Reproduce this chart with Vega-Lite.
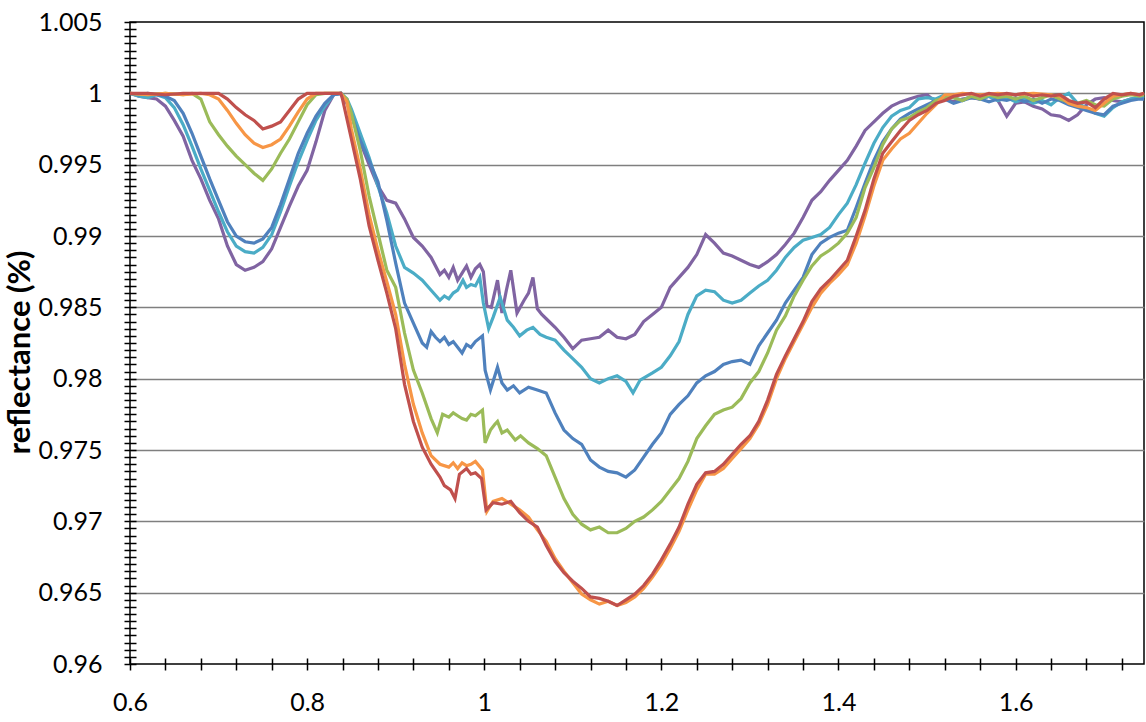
{
  "$schema": "https://vega.github.io/schema/vega-lite/v6.json",
  "width": 1014,
  "height": 642,
  "autosize": "none",
  "padding": {"left": 130, "top": 22, "right": 2, "bottom": 58},
  "background": "white",
  "config": {
    "view": {"stroke": "black", "strokeWidth": 1.5},
    "axis": {"labelFont": "Lato", "titleFont": "Lato", "labelColor": "black", "titleColor": "black"}
  },
  "datasets": {
    "purple": [
      {"x":0.6,"y":1},{"x":0.61,"y":0.9998},{"x":0.62,"y":0.9997},{"x":0.63,"y":0.9996},{"x":0.64,"y":0.9991},{"x":0.65,"y":0.9981},{"x":0.66,"y":0.997},{"x":0.67,"y":0.9953},{"x":0.68,"y":0.994},{"x":0.69,"y":0.9925},{"x":0.7,"y":0.9912},{"x":0.71,"y":0.9893},{"x":0.72,"y":0.988},{"x":0.73,"y":0.9876},{"x":0.74,"y":0.9878},{"x":0.75,"y":0.9882},{"x":0.76,"y":0.9891},{"x":0.77,"y":0.9906},{"x":0.78,"y":0.9921},{"x":0.79,"y":0.9935},{"x":0.8,"y":0.9946},{"x":0.81,"y":0.9966},{"x":0.82,"y":0.9988},{"x":0.83,"y":0.9999},{"x":0.838,"y":1},{"x":0.845,"y":0.9993},{"x":0.85,"y":0.9985},{"x":0.86,"y":0.9966},{"x":0.87,"y":0.995},{"x":0.88,"y":0.9935},{"x":0.89,"y":0.9925},{"x":0.9,"y":0.9923},{"x":0.91,"y":0.9912},{"x":0.92,"y":0.9899},{"x":0.93,"y":0.9893},{"x":0.94,"y":0.9885},{"x":0.95,"y":0.9873},{"x":0.955,"y":0.9876},{"x":0.96,"y":0.9871},{"x":0.965,"y":0.9878},{"x":0.97,"y":0.9869},{"x":0.975,"y":0.9874},{"x":0.98,"y":0.9879},{"x":0.985,"y":0.9871},{"x":0.99,"y":0.9877},{"x":0.995,"y":0.988},{"x":0.999,"y":0.9875},{"x":1.003,"y":0.9851},{"x":1.008,"y":0.985},{"x":1.015,"y":0.9869},{"x":1.02,"y":0.9846},{"x":1.025,"y":0.9862},{"x":1.03,"y":0.9876},{"x":1.037,"y":0.9846},{"x":1.045,"y":0.9855},{"x":1.05,"y":0.986},{"x":1.055,"y":0.9871},{"x":1.06,"y":0.9849},{"x":1.065,"y":0.9845},{"x":1.07,"y":0.9842},{"x":1.08,"y":0.9836},{"x":1.09,"y":0.9829},{"x":1.1,"y":0.9821},{"x":1.11,"y":0.9827},{"x":1.12,"y":0.9828},{"x":1.13,"y":0.9829},{"x":1.14,"y":0.9834},{"x":1.15,"y":0.9829},{"x":1.16,"y":0.9828},{"x":1.17,"y":0.9831},{"x":1.18,"y":0.984},{"x":1.19,"y":0.9845},{"x":1.2,"y":0.985},{"x":1.21,"y":0.9864},{"x":1.22,"y":0.9871},{"x":1.23,"y":0.9878},{"x":1.24,"y":0.9887},{"x":1.25,"y":0.9901},{"x":1.26,"y":0.9895},{"x":1.27,"y":0.9888},{"x":1.28,"y":0.9886},{"x":1.29,"y":0.9883},{"x":1.3,"y":0.988},{"x":1.31,"y":0.9878},{"x":1.32,"y":0.9882},{"x":1.33,"y":0.9887},{"x":1.34,"y":0.9894},{"x":1.35,"y":0.9902},{"x":1.36,"y":0.9913},{"x":1.37,"y":0.9925},{"x":1.38,"y":0.9931},{"x":1.39,"y":0.9939},{"x":1.4,"y":0.9946},{"x":1.41,"y":0.9953},{"x":1.42,"y":0.9963},{"x":1.43,"y":0.9974},{"x":1.44,"y":0.998},{"x":1.45,"y":0.9986},{"x":1.46,"y":0.9991},{"x":1.47,"y":0.9994},{"x":1.48,"y":0.9996},{"x":1.49,"y":0.9998},{"x":1.5,"y":0.9999},{"x":1.51,"y":0.9994},{"x":1.52,"y":0.9996},{"x":1.53,"y":0.9994},{"x":1.54,"y":0.9996},{"x":1.55,"y":0.9997},{"x":1.56,"y":0.9996},{"x":1.57,"y":0.9998},{"x":1.58,"y":0.9995},{"x":1.59,"y":0.9984},{"x":1.6,"y":0.9993},{"x":1.61,"y":0.9994},{"x":1.62,"y":0.9991},{"x":1.63,"y":0.9989},{"x":1.64,"y":0.9985},{"x":1.65,"y":0.9984},{"x":1.66,"y":0.9981},{"x":1.67,"y":0.9985},{"x":1.68,"y":0.9992},{"x":1.69,"y":0.9996},{"x":1.7,"y":0.9997},{"x":1.71,"y":0.9995},{"x":1.72,"y":0.9994},{"x":1.73,"y":0.9996},{"x":1.74,"y":0.9997},{"x":1.745,"y":0.9997}
    ],
    "cyan": [
      {"x":0.6,"y":1},{"x":0.61,"y":0.9998},{"x":0.62,"y":0.9997},{"x":0.63,"y":0.9999},{"x":0.64,"y":0.9997},{"x":0.65,"y":0.999},{"x":0.66,"y":0.9978},{"x":0.67,"y":0.9963},{"x":0.68,"y":0.9947},{"x":0.69,"y":0.9932},{"x":0.7,"y":0.9917},{"x":0.71,"y":0.9903},{"x":0.72,"y":0.9893},{"x":0.73,"y":0.9889},{"x":0.74,"y":0.9888},{"x":0.75,"y":0.9892},{"x":0.76,"y":0.9901},{"x":0.77,"y":0.9917},{"x":0.78,"y":0.9935},{"x":0.79,"y":0.9952},{"x":0.8,"y":0.9967},{"x":0.81,"y":0.9981},{"x":0.82,"y":0.9991},{"x":0.83,"y":0.9999},{"x":0.838,"y":1},{"x":0.845,"y":0.9996},{"x":0.85,"y":0.9989},{"x":0.86,"y":0.9972},{"x":0.87,"y":0.9955},{"x":0.88,"y":0.9935},{"x":0.89,"y":0.9916},{"x":0.9,"y":0.9893},{"x":0.91,"y":0.9878},{"x":0.92,"y":0.9874},{"x":0.93,"y":0.9869},{"x":0.94,"y":0.9862},{"x":0.95,"y":0.9855},{"x":0.955,"y":0.9858},{"x":0.96,"y":0.9856},{"x":0.965,"y":0.986},{"x":0.97,"y":0.9862},{"x":0.976,"y":0.9869},{"x":0.98,"y":0.9864},{"x":0.985,"y":0.9866},{"x":0.99,"y":0.9865},{"x":0.995,"y":0.9871},{"x":0.999,"y":0.9853},{"x":1.005,"y":0.9835},{"x":1.01,"y":0.9843},{"x":1.018,"y":0.9857},{"x":1.026,"y":0.9841},{"x":1.033,"y":0.9836},{"x":1.04,"y":0.983},{"x":1.048,"y":0.9834},{"x":1.055,"y":0.9836},{"x":1.063,"y":0.9831},{"x":1.07,"y":0.9829},{"x":1.08,"y":0.9827},{"x":1.09,"y":0.982},{"x":1.1,"y":0.9814},{"x":1.11,"y":0.9808},{"x":1.12,"y":0.98},{"x":1.13,"y":0.9797},{"x":1.14,"y":0.98},{"x":1.15,"y":0.9802},{"x":1.16,"y":0.9798},{"x":1.168,"y":0.979},{"x":1.176,"y":0.9799},{"x":1.19,"y":0.9804},{"x":1.2,"y":0.9808},{"x":1.21,"y":0.9816},{"x":1.22,"y":0.9826},{"x":1.23,"y":0.9845},{"x":1.24,"y":0.9858},{"x":1.25,"y":0.9862},{"x":1.26,"y":0.9861},{"x":1.27,"y":0.9855},{"x":1.28,"y":0.9853},{"x":1.29,"y":0.9855},{"x":1.3,"y":0.986},{"x":1.31,"y":0.9865},{"x":1.32,"y":0.9869},{"x":1.33,"y":0.9876},{"x":1.34,"y":0.9885},{"x":1.35,"y":0.9892},{"x":1.36,"y":0.9897},{"x":1.37,"y":0.9899},{"x":1.38,"y":0.9901},{"x":1.39,"y":0.9906},{"x":1.4,"y":0.9915},{"x":1.41,"y":0.9923},{"x":1.42,"y":0.9936},{"x":1.43,"y":0.9951},{"x":1.44,"y":0.9965},{"x":1.45,"y":0.9976},{"x":1.46,"y":0.9984},{"x":1.47,"y":0.9988},{"x":1.48,"y":0.999},{"x":1.49,"y":0.9996},{"x":1.5,"y":0.9997},{"x":1.51,"y":0.9996},{"x":1.52,"y":0.9999},{"x":1.53,"y":0.9997},{"x":1.54,"y":0.9995},{"x":1.55,"y":0.9998},{"x":1.56,"y":0.9996},{"x":1.57,"y":0.9998},{"x":1.58,"y":0.9995},{"x":1.59,"y":0.9997},{"x":1.6,"y":0.9994},{"x":1.61,"y":0.9996},{"x":1.62,"y":0.9993},{"x":1.63,"y":0.9995},{"x":1.64,"y":0.9992},{"x":1.65,"y":0.9997},{"x":1.66,"y":1},{"x":1.67,"y":0.9993},{"x":1.68,"y":0.999},{"x":1.69,"y":0.9986},{"x":1.7,"y":0.9984},{"x":1.71,"y":0.999},{"x":1.72,"y":0.9994},{"x":1.73,"y":0.9996},{"x":1.74,"y":0.9997},{"x":1.745,"y":0.9998}
    ],
    "blue": [
      {"x":0.6,"y":1},{"x":0.61,"y":0.9999},{"x":0.62,"y":1},{"x":0.63,"y":0.9999},{"x":0.64,"y":0.9998},{"x":0.65,"y":0.9995},{"x":0.66,"y":0.9986},{"x":0.67,"y":0.9972},{"x":0.68,"y":0.9956},{"x":0.69,"y":0.994},{"x":0.7,"y":0.9925},{"x":0.71,"y":0.991},{"x":0.72,"y":0.99},{"x":0.73,"y":0.9896},{"x":0.74,"y":0.9895},{"x":0.75,"y":0.9898},{"x":0.76,"y":0.9906},{"x":0.77,"y":0.9922},{"x":0.78,"y":0.994},{"x":0.79,"y":0.9958},{"x":0.8,"y":0.9972},{"x":0.81,"y":0.9984},{"x":0.82,"y":0.9993},{"x":0.83,"y":0.9999},{"x":0.838,"y":1},{"x":0.845,"y":0.9995},{"x":0.85,"y":0.9985},{"x":0.86,"y":0.9967},{"x":0.87,"y":0.9953},{"x":0.88,"y":0.9938},{"x":0.89,"y":0.9911},{"x":0.9,"y":0.9881},{"x":0.91,"y":0.9853},{"x":0.92,"y":0.9839},{"x":0.93,"y":0.9825},{"x":0.935,"y":0.9822},{"x":0.94,"y":0.9833},{"x":0.945,"y":0.9829},{"x":0.95,"y":0.9826},{"x":0.955,"y":0.9829},{"x":0.96,"y":0.9824},{"x":0.965,"y":0.9826},{"x":0.975,"y":0.9818},{"x":0.98,"y":0.9824},{"x":0.985,"y":0.9822},{"x":0.99,"y":0.9826},{"x":0.998,"y":0.983},{"x":1.001,"y":0.9806},{"x":1.007,"y":0.9792},{"x":1.015,"y":0.9808},{"x":1.02,"y":0.9797},{"x":1.026,"y":0.9792},{"x":1.033,"y":0.9795},{"x":1.04,"y":0.979},{"x":1.05,"y":0.9794},{"x":1.06,"y":0.9792},{"x":1.07,"y":0.979},{"x":1.08,"y":0.9776},{"x":1.09,"y":0.9764},{"x":1.1,"y":0.9758},{"x":1.11,"y":0.9754},{"x":1.12,"y":0.9743},{"x":1.13,"y":0.9738},{"x":1.14,"y":0.9735},{"x":1.15,"y":0.9734},{"x":1.16,"y":0.9731},{"x":1.17,"y":0.9736},{"x":1.18,"y":0.9745},{"x":1.19,"y":0.9754},{"x":1.2,"y":0.9762},{"x":1.21,"y":0.9775},{"x":1.22,"y":0.9782},{"x":1.23,"y":0.9788},{"x":1.24,"y":0.9797},{"x":1.25,"y":0.9802},{"x":1.26,"y":0.9805},{"x":1.27,"y":0.981},{"x":1.28,"y":0.9812},{"x":1.29,"y":0.9813},{"x":1.3,"y":0.981},{"x":1.31,"y":0.9823},{"x":1.32,"y":0.9832},{"x":1.33,"y":0.9841},{"x":1.34,"y":0.9853},{"x":1.35,"y":0.9862},{"x":1.36,"y":0.9871},{"x":1.37,"y":0.9887},{"x":1.38,"y":0.9895},{"x":1.39,"y":0.9899},{"x":1.4,"y":0.9902},{"x":1.41,"y":0.9904},{"x":1.42,"y":0.992},{"x":1.43,"y":0.9937},{"x":1.44,"y":0.9953},{"x":1.45,"y":0.9966},{"x":1.46,"y":0.9975},{"x":1.47,"y":0.9982},{"x":1.48,"y":0.9986},{"x":1.49,"y":0.9989},{"x":1.5,"y":0.9992},{"x":1.51,"y":0.9995},{"x":1.52,"y":0.9996},{"x":1.53,"y":0.9993},{"x":1.54,"y":0.9995},{"x":1.55,"y":0.9997},{"x":1.56,"y":0.9996},{"x":1.57,"y":0.9994},{"x":1.58,"y":0.9996},{"x":1.59,"y":0.9995},{"x":1.6,"y":0.9997},{"x":1.61,"y":0.9994},{"x":1.62,"y":0.9996},{"x":1.63,"y":0.9993},{"x":1.64,"y":0.9996},{"x":1.65,"y":0.9995},{"x":1.66,"y":0.9992},{"x":1.67,"y":0.999},{"x":1.68,"y":0.9988},{"x":1.69,"y":0.9986},{"x":1.7,"y":0.9985},{"x":1.71,"y":0.9991},{"x":1.72,"y":0.9993},{"x":1.73,"y":0.9995},{"x":1.74,"y":0.9996},{"x":1.745,"y":0.9996}
    ],
    "green": [
      {"x":0.6,"y":1},{"x":0.62,"y":0.9999},{"x":0.64,"y":1},{"x":0.66,"y":0.9999},{"x":0.67,"y":1},{"x":0.68,"y":0.9996},{"x":0.69,"y":0.998},{"x":0.7,"y":0.9971},{"x":0.71,"y":0.9963},{"x":0.72,"y":0.9956},{"x":0.73,"y":0.995},{"x":0.74,"y":0.9944},{"x":0.75,"y":0.9939},{"x":0.76,"y":0.9947},{"x":0.77,"y":0.9958},{"x":0.78,"y":0.9968},{"x":0.79,"y":0.998},{"x":0.8,"y":0.9992},{"x":0.81,"y":0.9999},{"x":0.82,"y":1},{"x":0.838,"y":1},{"x":0.845,"y":0.9996},{"x":0.85,"y":0.9986},{"x":0.86,"y":0.996},{"x":0.87,"y":0.9928},{"x":0.88,"y":0.9902},{"x":0.89,"y":0.9876},{"x":0.9,"y":0.9864},{"x":0.91,"y":0.9832},{"x":0.92,"y":0.9806},{"x":0.93,"y":0.979},{"x":0.94,"y":0.9772},{"x":0.947,"y":0.9762},{"x":0.953,"y":0.9775},{"x":0.96,"y":0.9773},{"x":0.965,"y":0.9776},{"x":0.97,"y":0.9774},{"x":0.975,"y":0.9772},{"x":0.98,"y":0.9771},{"x":0.985,"y":0.9775},{"x":0.99,"y":0.9774},{"x":0.998,"y":0.9778},{"x":1.001,"y":0.9755},{"x":1.007,"y":0.9764},{"x":1.012,"y":0.9768},{"x":1.015,"y":0.977},{"x":1.02,"y":0.9762},{"x":1.026,"y":0.9764},{"x":1.035,"y":0.9757},{"x":1.041,"y":0.976},{"x":1.05,"y":0.9755},{"x":1.06,"y":0.9751},{"x":1.07,"y":0.9746},{"x":1.08,"y":0.9731},{"x":1.09,"y":0.9716},{"x":1.1,"y":0.9705},{"x":1.11,"y":0.9698},{"x":1.12,"y":0.9694},{"x":1.13,"y":0.9696},{"x":1.14,"y":0.9692},{"x":1.15,"y":0.9692},{"x":1.16,"y":0.9695},{"x":1.17,"y":0.97},{"x":1.18,"y":0.9703},{"x":1.19,"y":0.9708},{"x":1.2,"y":0.9714},{"x":1.21,"y":0.9722},{"x":1.22,"y":0.973},{"x":1.23,"y":0.9742},{"x":1.24,"y":0.9758},{"x":1.25,"y":0.9767},{"x":1.26,"y":0.9775},{"x":1.27,"y":0.9778},{"x":1.28,"y":0.978},{"x":1.29,"y":0.9786},{"x":1.3,"y":0.9797},{"x":1.31,"y":0.9805},{"x":1.32,"y":0.9818},{"x":1.33,"y":0.9834},{"x":1.34,"y":0.9844},{"x":1.35,"y":0.9858},{"x":1.36,"y":0.9869},{"x":1.37,"y":0.9879},{"x":1.38,"y":0.9886},{"x":1.39,"y":0.989},{"x":1.4,"y":0.9895},{"x":1.41,"y":0.9902},{"x":1.42,"y":0.9913},{"x":1.43,"y":0.9934},{"x":1.44,"y":0.9948},{"x":1.45,"y":0.9964},{"x":1.46,"y":0.9975},{"x":1.47,"y":0.9981},{"x":1.48,"y":0.9983},{"x":1.49,"y":0.9987},{"x":1.5,"y":0.999},{"x":1.51,"y":0.9995},{"x":1.52,"y":0.9997},{"x":1.53,"y":0.9997},{"x":1.54,"y":0.9995},{"x":1.55,"y":0.9998},{"x":1.56,"y":0.9996},{"x":1.57,"y":0.9999},{"x":1.58,"y":0.9997},{"x":1.59,"y":0.9998},{"x":1.6,"y":0.9996},{"x":1.61,"y":0.9998},{"x":1.62,"y":0.9995},{"x":1.63,"y":0.9997},{"x":1.64,"y":0.9999},{"x":1.65,"y":0.9996},{"x":1.66,"y":0.9994},{"x":1.67,"y":0.9993},{"x":1.68,"y":0.9995},{"x":1.69,"y":0.9992},{"x":1.7,"y":0.9991},{"x":1.71,"y":0.9996},{"x":1.72,"y":0.9998},{"x":1.73,"y":0.9999},{"x":1.74,"y":0.9998},{"x":1.745,"y":0.9999}
    ],
    "orange": [
      {"x":0.6,"y":1},{"x":0.62,"y":0.9999},{"x":0.64,"y":1},{"x":0.66,"y":0.9999},{"x":0.68,"y":1},{"x":0.69,"y":0.9999},{"x":0.7,"y":0.9996},{"x":0.71,"y":0.9988},{"x":0.72,"y":0.9979},{"x":0.73,"y":0.9971},{"x":0.74,"y":0.9965},{"x":0.75,"y":0.9962},{"x":0.76,"y":0.9964},{"x":0.77,"y":0.9968},{"x":0.78,"y":0.9977},{"x":0.79,"y":0.9987},{"x":0.8,"y":0.9996},{"x":0.81,"y":1},{"x":0.838,"y":1},{"x":0.845,"y":0.9994},{"x":0.85,"y":0.9975},{"x":0.86,"y":0.9947},{"x":0.87,"y":0.9915},{"x":0.88,"y":0.989},{"x":0.89,"y":0.9868},{"x":0.9,"y":0.9845},{"x":0.91,"y":0.981},{"x":0.92,"y":0.9782},{"x":0.93,"y":0.9762},{"x":0.94,"y":0.9746},{"x":0.95,"y":0.974},{"x":0.96,"y":0.9738},{"x":0.965,"y":0.9741},{"x":0.97,"y":0.9737},{"x":0.975,"y":0.9741},{"x":0.98,"y":0.9739},{"x":0.985,"y":0.974},{"x":0.99,"y":0.9742},{"x":0.998,"y":0.9736},{"x":1.003,"y":0.9707},{"x":1.01,"y":0.9714},{"x":1.02,"y":0.9716},{"x":1.03,"y":0.9712},{"x":1.04,"y":0.9708},{"x":1.05,"y":0.9703},{"x":1.06,"y":0.9694},{"x":1.07,"y":0.9686},{"x":1.08,"y":0.9674},{"x":1.09,"y":0.9665},{"x":1.1,"y":0.9657},{"x":1.11,"y":0.9649},{"x":1.12,"y":0.9645},{"x":1.13,"y":0.9642},{"x":1.14,"y":0.9644},{"x":1.15,"y":0.9641},{"x":1.16,"y":0.9643},{"x":1.17,"y":0.9647},{"x":1.18,"y":0.9653},{"x":1.19,"y":0.9661},{"x":1.2,"y":0.967},{"x":1.21,"y":0.9681},{"x":1.22,"y":0.9693},{"x":1.23,"y":0.9708},{"x":1.24,"y":0.9722},{"x":1.25,"y":0.9733},{"x":1.26,"y":0.9733},{"x":1.27,"y":0.9737},{"x":1.28,"y":0.9744},{"x":1.29,"y":0.9751},{"x":1.3,"y":0.9758},{"x":1.31,"y":0.9768},{"x":1.32,"y":0.9782},{"x":1.33,"y":0.98},{"x":1.34,"y":0.9814},{"x":1.35,"y":0.9826},{"x":1.36,"y":0.9838},{"x":1.37,"y":0.985},{"x":1.38,"y":0.986},{"x":1.39,"y":0.9867},{"x":1.4,"y":0.9873},{"x":1.41,"y":0.988},{"x":1.42,"y":0.9895},{"x":1.43,"y":0.9914},{"x":1.44,"y":0.9935},{"x":1.45,"y":0.9953},{"x":1.46,"y":0.9961},{"x":1.47,"y":0.9968},{"x":1.48,"y":0.9972},{"x":1.49,"y":0.9979},{"x":1.5,"y":0.9986},{"x":1.51,"y":0.9992},{"x":1.52,"y":0.9999},{"x":1.53,"y":0.9999},{"x":1.54,"y":1},{"x":1.56,"y":0.9999},{"x":1.58,"y":1},{"x":1.6,"y":0.9999},{"x":1.62,"y":1},{"x":1.64,"y":0.9999},{"x":1.65,"y":0.9998},{"x":1.66,"y":0.9993},{"x":1.67,"y":0.9991},{"x":1.68,"y":0.999},{"x":1.69,"y":0.9988},{"x":1.7,"y":0.9993},{"x":1.71,"y":0.9998},{"x":1.72,"y":0.9999},{"x":1.73,"y":1},{"x":1.74,"y":0.9999},{"x":1.745,"y":1}
    ],
    "red": [
      {"x":0.6,"y":1},{"x":0.62,"y":1},{"x":0.64,"y":0.9999},{"x":0.66,"y":1},{"x":0.68,"y":1},{"x":0.7,"y":1},{"x":0.71,"y":0.9996},{"x":0.72,"y":0.999},{"x":0.73,"y":0.9985},{"x":0.74,"y":0.9981},{"x":0.75,"y":0.9975},{"x":0.76,"y":0.9977},{"x":0.77,"y":0.998},{"x":0.78,"y":0.9988},{"x":0.79,"y":0.9996},{"x":0.8,"y":1},{"x":0.838,"y":1},{"x":0.84,"y":0.9996},{"x":0.85,"y":0.9968},{"x":0.86,"y":0.994},{"x":0.87,"y":0.9907},{"x":0.88,"y":0.9883},{"x":0.89,"y":0.986},{"x":0.9,"y":0.9835},{"x":0.91,"y":0.9796},{"x":0.92,"y":0.977},{"x":0.93,"y":0.9752},{"x":0.94,"y":0.974},{"x":0.95,"y":0.9731},{"x":0.955,"y":0.9725},{"x":0.962,"y":0.9722},{"x":0.967,"y":0.9716},{"x":0.972,"y":0.9733},{"x":0.98,"y":0.9737},{"x":0.985,"y":0.9733},{"x":0.99,"y":0.9734},{"x":0.997,"y":0.973},{"x":1.002,"y":0.9708},{"x":1.01,"y":0.9713},{"x":1.02,"y":0.9712},{"x":1.03,"y":0.9714},{"x":1.04,"y":0.9706},{"x":1.05,"y":0.97},{"x":1.06,"y":0.9696},{"x":1.07,"y":0.9683},{"x":1.08,"y":0.9672},{"x":1.09,"y":0.9664},{"x":1.1,"y":0.9658},{"x":1.11,"y":0.9653},{"x":1.12,"y":0.9647},{"x":1.13,"y":0.9646},{"x":1.14,"y":0.9644},{"x":1.15,"y":0.9641},{"x":1.16,"y":0.9645},{"x":1.17,"y":0.9649},{"x":1.18,"y":0.9655},{"x":1.19,"y":0.9663},{"x":1.2,"y":0.9673},{"x":1.21,"y":0.9684},{"x":1.22,"y":0.9696},{"x":1.23,"y":0.9712},{"x":1.24,"y":0.9726},{"x":1.25,"y":0.9734},{"x":1.26,"y":0.9735},{"x":1.27,"y":0.974},{"x":1.28,"y":0.9747},{"x":1.29,"y":0.9754},{"x":1.3,"y":0.976},{"x":1.31,"y":0.977},{"x":1.32,"y":0.9785},{"x":1.33,"y":0.9803},{"x":1.34,"y":0.9816},{"x":1.35,"y":0.9828},{"x":1.36,"y":0.984},{"x":1.37,"y":0.9854},{"x":1.38,"y":0.9863},{"x":1.39,"y":0.9869},{"x":1.4,"y":0.9876},{"x":1.41,"y":0.9883},{"x":1.42,"y":0.99},{"x":1.43,"y":0.9918},{"x":1.44,"y":0.994},{"x":1.45,"y":0.9958},{"x":1.46,"y":0.9966},{"x":1.47,"y":0.9974},{"x":1.48,"y":0.9981},{"x":1.49,"y":0.9985},{"x":1.5,"y":0.9988},{"x":1.51,"y":0.9993},{"x":1.52,"y":0.9995},{"x":1.53,"y":0.9998},{"x":1.54,"y":0.9999},{"x":1.55,"y":1},{"x":1.56,"y":0.9998},{"x":1.57,"y":1},{"x":1.58,"y":0.9999},{"x":1.59,"y":1},{"x":1.6,"y":0.9999},{"x":1.61,"y":1},{"x":1.62,"y":0.9998},{"x":1.63,"y":0.9999},{"x":1.64,"y":0.9998},{"x":1.65,"y":0.9999},{"x":1.66,"y":0.9995},{"x":1.67,"y":0.9993},{"x":1.68,"y":0.9994},{"x":1.69,"y":0.999},{"x":1.7,"y":0.9996},{"x":1.71,"y":1},{"x":1.72,"y":0.9999},{"x":1.73,"y":1},{"x":1.74,"y":0.9999},{"x":1.745,"y":1}
    ]
  },
  "encoding": {
    "x": {
      "field": "x",
      "type": "quantitative",
      "scale": {"domain": [0.6, 1.745], "nice": false, "zero": false},
      "axis": {
        "title": null,
        "values": [0.6,0.64,0.68,0.72,0.76,0.8,0.84,0.88,0.92,0.96,1,1.04,1.08,1.12,1.16,1.2,1.24,1.28,1.32,1.36,1.4,1.44,1.48,1.52,1.56,1.6,1.64,1.68,1.72],
        "format": "~g",
        "labelExpr": "abs(datum.value*5 - round(datum.value*5)) < 0.001 ? datum.label : ''",
        "grid": false,
        "domain": false,
        "offset": -6,
        "tickSize": 12,
        "tickColor": "black",
        "tickWidth": 1.5,
        "labelFontSize": 25,
        "labelPadding": 20,
        "labelFlush": false,
        "labelOverlap": false
      }
    },
    "y": {
      "field": "y",
      "type": "quantitative",
      "scale": {"domain": [0.96, 1.005], "nice": false, "zero": false},
      "axis": {
        "title": "reflectance (%)",
        "titleFontSize": 31,
        "titleFontWeight": "bold",
        "titleX": -116,
        "titleY": 330,
        "titleBaseline": "middle",
        "values": [0.96,0.9605,0.961,0.9615,0.962,0.9625,0.963,0.9635,0.964,0.9645,0.965,0.9655,0.966,0.9665,0.967,0.9675,0.968,0.9685,0.969,0.9695,0.97,0.9705,0.971,0.9715,0.972,0.9725,0.973,0.9735,0.974,0.9745,0.975,0.9755,0.976,0.9765,0.977,0.9775,0.978,0.9785,0.979,0.9795,0.98,0.9805,0.981,0.9815,0.982,0.9825,0.983,0.9835,0.984,0.9845,0.985,0.9855,0.986,0.9865,0.987,0.9875,0.988,0.9885,0.989,0.9895,0.99,0.9905,0.991,0.9915,0.992,0.9925,0.993,0.9935,0.994,0.9945,0.995,0.9955,0.996,0.9965,0.997,0.9975,0.998,0.9985,0.999,0.9995,1,1.0005,1.001,1.0015,1.002,1.0025,1.003,1.0035,1.004,1.0045,1.005],
        "format": "~g",
        "labelExpr": "abs(datum.value*200 - round(datum.value*200)) < 0.01 ? datum.label : ''",
        "grid": true,
        "gridColor": "#7f7f7f",
        "gridWidth": 1.5,
        "gridOpacity": {"condition": {"test": "abs(datum.value*200 - round(datum.value*200)) < 0.01 && datum.value > 0.961 && datum.value < 1.004", "value": 1}, "value": 0},
        "domain": false,
        "offset": -6,
        "tickSize": 12,
        "tickColor": "black",
        "tickWidth": 1.5,
        "labelFontSize": 25,
        "labelPadding": 22,
        "labelFlush": false,
        "labelOverlap": false
      }
    }
  },
  "layer": [
    {"data": {"name": "purple"}, "mark": {"type": "line", "color": "#8064A2", "strokeWidth": 3.2}},
    {"data": {"name": "cyan"}, "mark": {"type": "line", "color": "#4BACC6", "strokeWidth": 3.2}},
    {"data": {"name": "blue"}, "mark": {"type": "line", "color": "#4F81BD", "strokeWidth": 3.2}},
    {"data": {"name": "green"}, "mark": {"type": "line", "color": "#9BBB59", "strokeWidth": 3.2}},
    {"data": {"name": "orange"}, "mark": {"type": "line", "color": "#F79646", "strokeWidth": 3.2}},
    {"data": {"name": "red"}, "mark": {"type": "line", "color": "#C0504D", "strokeWidth": 3.2}}
  ]
}
